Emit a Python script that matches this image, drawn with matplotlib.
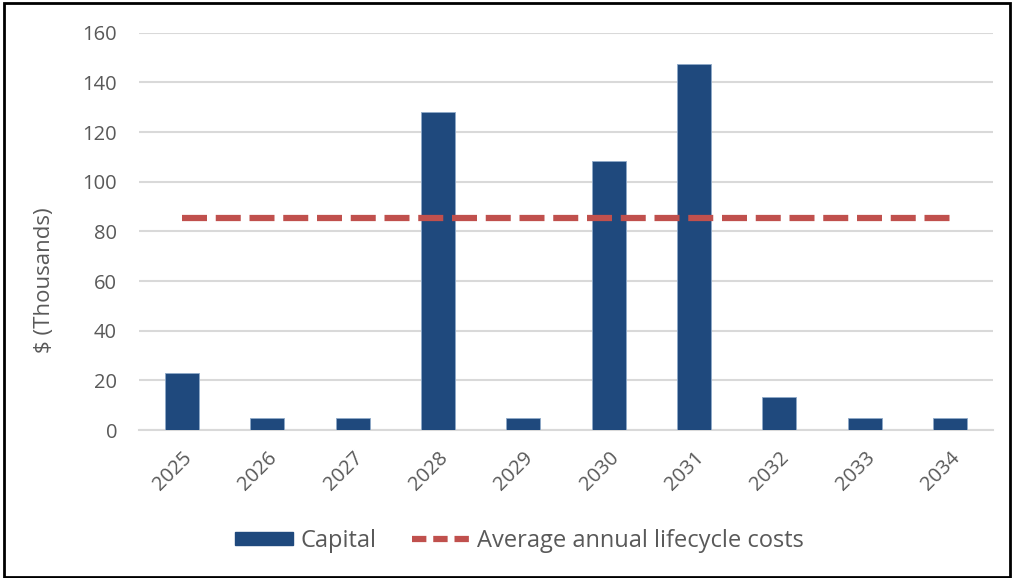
import matplotlib
matplotlib.use("Agg")
import matplotlib.pyplot as plt
from matplotlib.patches import Rectangle
from matplotlib.lines import Line2D
from matplotlib.patches import Patch
import numpy as np

years = ["2025", "2026", "2027", "2028", "2029", "2030", "2031", "2032", "2033", "2034"]
capital = [23, 5, 5, 128, 5, 108.5, 147.5, 13.3, 5, 5]
avg_annual = 85.5
yticks = [0, 20, 40, 60, 80, 100, 120, 140, 160]

plt.rcParams['font.family'] = ['Open Sans', 'DejaVu Sans']
txt = '#595959'

fig = plt.figure(figsize=(10.13, 5.78), dpi=100)
ax = fig.add_axes([0.1375, 0.256, 0.8425, 0.6874])

x = np.arange(len(years))
ax.bar(x, capital, width=0.4, color='#1F497D', edgecolor='#8EA9C8', linewidth=0.6, zorder=3)
ax.plot([x[0], x[-1]], [avg_annual, avg_annual], color='#C0504D', lw=4.5,
        dashes=(4, 1.4), zorder=4)

ax.set_xlim(-0.5, len(years) - 0.5)
ax.set_ylim(0, 160)
ax.set_yticks(yticks)
ax.set_xticks(x)
ax.set_xticklabels(years, rotation=45, ha='right', rotation_mode='anchor')
ax.grid(axis='y', color='#D9D9D9', lw=1.5, zorder=0)
for s in ['top', 'right', 'left']:
    ax.spines[s].set_visible(False)
ax.spines['bottom'].set_color('#D9D9D9')
ax.spines['bottom'].set_linewidth(1.5)
ax.tick_params(axis='both', length=0, labelsize=14.5, labelcolor=txt)
ax.tick_params(axis='y', pad=16)
ax.tick_params(axis='x', pad=13)
ax.set_ylabel('$ (Thousands)', fontsize=16, color=txt)
ax.yaxis.set_label_coords(-0.099, 0.378)

handles = [Patch(facecolor='#1F497D', edgecolor='#1F497D'),
           Line2D([0], [0], color='#C0504D', lw=4.5, dashes=(2.3, 1.1))]
fig.legend(handles, ['Capital', 'Average annual lifecycle costs'], loc='center',
           bbox_to_anchor=(0.513, 0.064), ncol=2, frameon=False, fontsize=17,
           labelcolor=txt, handlelength=2.46, handleheight=0.5, columnspacing=1.5,
           handletextpad=0.3)

fig.add_artist(Rectangle((0.004, 0.002), 0.993, 0.993, transform=fig.transFigure,
                         fill=False, edgecolor='black', lw=2))

fig.savefig('out.png', dpi=100)
